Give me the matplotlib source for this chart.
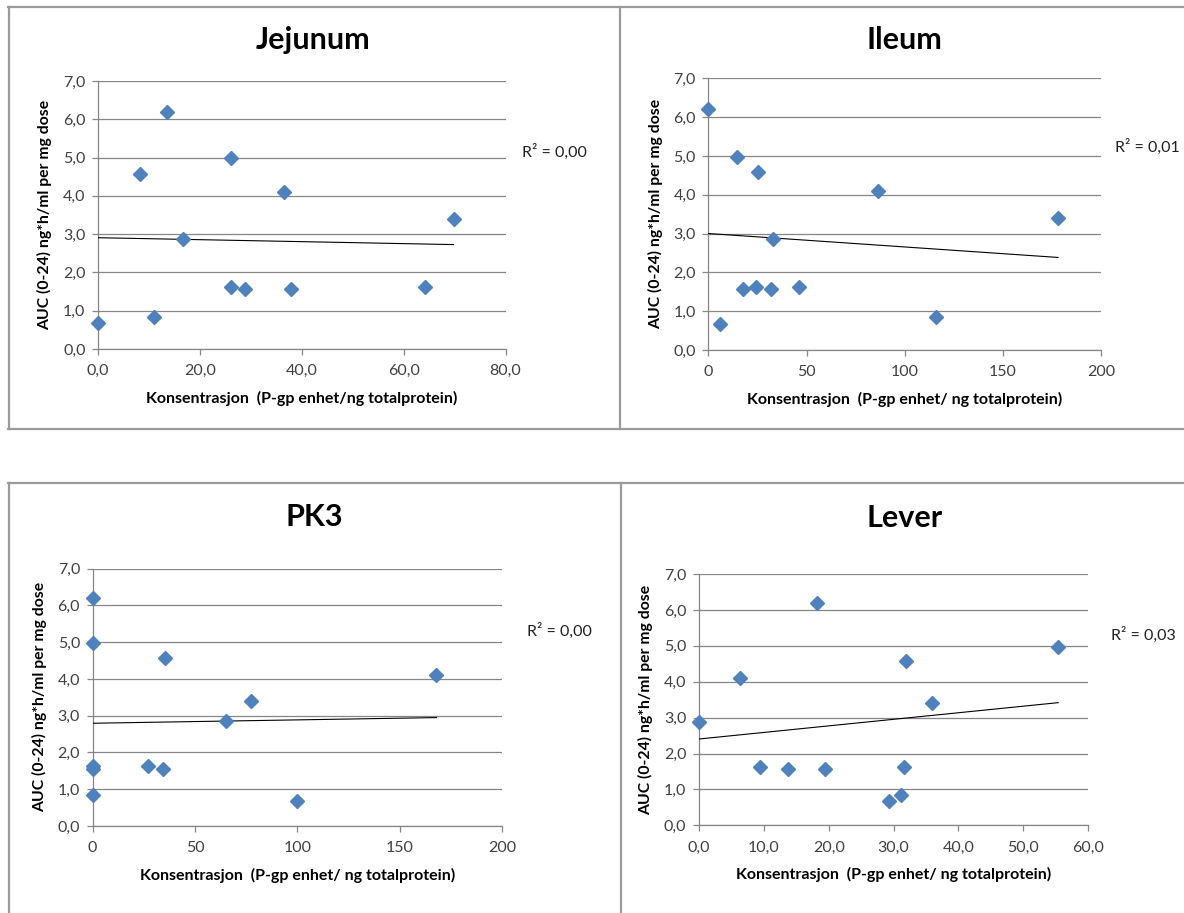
import matplotlib
matplotlib.use('Agg')

import numpy as np
import matplotlib.pyplot as plt
from matplotlib.lines import Line2D
from matplotlib.ticker import FuncFormatter

plt.rcParams['font.family'] = ['Lato', 'DejaVu Sans']

# AUC (0-24) per mg dose, same 12 animals in every organ
jej_x = [0.0, 8.3, 10.9, 13.6, 16.7, 26.2, 26.2, 28.9, 36.6, 37.9, 64.1, 69.8]
jej_y = [0.67, 4.58, 0.84, 6.20, 2.87, 4.98, 1.62, 1.56, 4.10, 1.56, 1.63, 3.40]

ile_x = [0.0, 5.7, 14.4, 17.8, 24.3, 25.2, 32.0, 32.8, 46.3, 86.1, 115.8, 178.0]
ile_y = [6.20, 0.67, 4.98, 1.56, 1.62, 4.58, 1.56, 2.87, 1.63, 4.10, 0.84, 3.40]

pk3_x = [0.0, 0.0, 0.0, 0.0, 0.0, 27.1, 34.4, 35.3, 65.0, 77.2, 99.8, 168.0]
pk3_y = [6.20, 4.98, 1.63, 1.56, 0.84, 1.62, 1.56, 4.58, 2.87, 3.40, 0.67, 4.10]

lev_x = [0.0, 6.4, 9.4, 13.7, 18.2, 19.5, 29.3, 31.1, 31.6, 32.0, 35.9, 55.4]
lev_y = [2.87, 4.10, 1.62, 1.56, 6.20, 1.56, 0.67, 0.84, 1.63, 4.58, 3.40, 4.98]

titles = ['Jejunum', 'Ileum', 'PK3', 'Lever']
r2_labels = ['R\u00b2 = 0,00', 'R\u00b2 = 0,01', 'R\u00b2 = 0,00', 'R\u00b2 = 0,03']
xlabels = ['Konsentrasjon  (P-gp enhet/ng totalprotein)',
           'Konsentrasjon  (P-gp enhet/ ng totalprotein)',
           'Konsentrasjon  (P-gp enhet/ ng totalprotein)',
           'Konsentrasjon  (P-gp enhet/ ng totalprotein)']
ylabel = 'AUC (0-24) ng*h/ml per mg dose'
xmaxes = [80, 200, 200, 60]
xsteps = [20, 50, 50, 10]
xdecimal = [True, False, False, True]

W, H = 1184, 913
GRID = '#868686'
FRAME = '#9a9a9a'
BLUE = '#4f81bd'


def comma(v, pos):
    return ('%.1f' % v).replace('.', ',')


def add_axes_px(fig, x0, x1, ytop, ybot):
    return fig.add_axes([x0 / W, 1 - ybot / H, (x1 - x0) / W, (ybot - ytop) / H])


def hline(fig, x0, x1, y):
    fig.add_artist(Line2D([x0 / W, x1 / W], [1 - y / H, 1 - y / H],
                          transform=fig.transFigure, color=FRAME, lw=1.6))


def vline(fig, x, y0, y1):
    fig.add_artist(Line2D([x / W, x / W], [1 - y0 / H, 1 - y1 / H],
                          transform=fig.transFigure, color=FRAME, lw=1.6))


def draw_panel(ax, xs, ys, i):
    ax.plot(xs, ys, linestyle='None', marker='D', markersize=7.2,
            color=BLUE, markeredgecolor=BLUE, zorder=4, clip_on=False)

    # linear trendline over the data range
    k, m = np.polyfit(xs, ys, 1)
    tx = np.array([min(xs), max(xs)])
    ax.plot(tx, k * tx + m, color='black', lw=0.8, zorder=3)

    ax.set_xlim(0, xmaxes[i])
    ax.set_ylim(0, 7)
    ax.set_xticks(np.arange(0, xmaxes[i] + 1, xsteps[i]))
    ax.set_yticks(np.arange(0, 8, 1))
    ax.yaxis.set_major_formatter(FuncFormatter(comma))
    if xdecimal[i]:
        ax.xaxis.set_major_formatter(FuncFormatter(comma))
    else:
        ax.xaxis.set_major_formatter(FuncFormatter(lambda v, p: '%d' % v))

    ax.grid(axis='y', color=GRID, lw=0.9)
    ax.set_axisbelow(True)
    for s in ['top', 'right']:
        ax.spines[s].set_visible(False)
    for s in ['left', 'bottom']:
        ax.spines[s].set_color(GRID)
        ax.spines[s].set_linewidth(0.9)
    ax.tick_params(axis='both', direction='out', length=4, width=0.9,
                   color=GRID, labelsize=11.5, labelcolor='#404040')
    ax.tick_params(axis='x', pad=7)
    ax.tick_params(axis='y', pad=5)

    ax.set_xlabel(xlabels[i], fontsize=11.5, fontweight='bold')
    ax.set_ylabel(ylabel, fontsize=11.3, fontweight='bold')
    bbox = ax.get_position()
    h_px = bbox.height * H
    w_px = bbox.width * W
    ax.xaxis.label.set_va('center')
    ax.xaxis.set_label_coords(0.5, -49.0 / h_px)
    ax.yaxis.label.set_va('center')
    ax.yaxis.set_label_coords(-53.0 / w_px, 0.5)


fig = plt.figure(figsize=(W / 100.0, H / 100.0), dpi=100)

# panel frames
hline(fig, 8, W, 7)
hline(fig, 8, W, 429.5)
vline(fig, 8.5, 7, 429.5)
vline(fig, 619.5, 7, 429.5)
hline(fig, 8, W, 483.5)
vline(fig, 8.5, 483.5, H)
vline(fig, 620.5, 483.5, H)

axes_px = [(98, 505.5, 81, 349),
           (708.4, 1101.3, 78.3, 350),
           (92.6, 502, 568.7, 826),
           (699, 1088, 574, 825.3)]
data = [(jej_x, jej_y), (ile_x, ile_y), (pk3_x, pk3_y), (lev_x, lev_y)]
title_pos = [(313, 40), (904, 40), (314, 517), (905, 518)]
r2_pos = [(522, 152), (1115, 147), (527, 631), (1111, 635)]

for i in range(4):
    ax = add_axes_px(fig, *axes_px[i])
    draw_panel(ax, data[i][0], data[i][1], i)
    fig.text(title_pos[i][0] / W, 1 - title_pos[i][1] / H, titles[i],
             ha='center', va='center', fontsize=22, fontweight='bold')
    fig.text(r2_pos[i][0] / W, 1 - r2_pos[i][1] / H, r2_labels[i],
             ha='left', va='center', fontsize=11.5, color='#202020')

fig.savefig('out.png', dpi=100)
plt.close('all')
